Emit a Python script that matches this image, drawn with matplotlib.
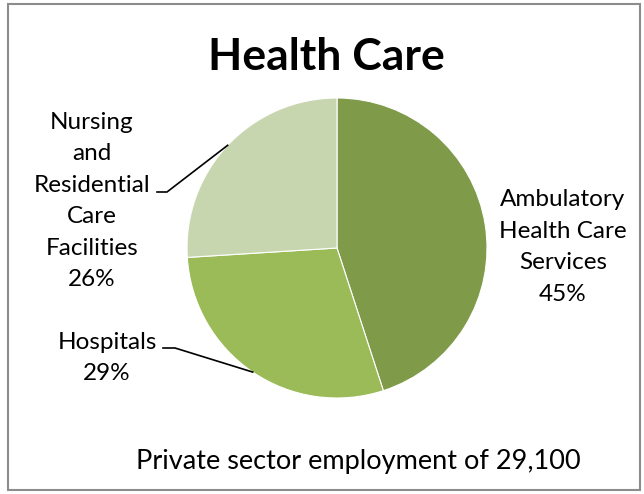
import numpy as np
import matplotlib
matplotlib.use("Agg")
import matplotlib.pyplot as plt
from matplotlib.patches import Rectangle

title = "Health Care"
footer = "Private sector employment of 29,100"
categories = ["Ambulatory\nHealth Care\nServices", "Hospitals", "Nursing\nand\nResidential\nCare\nFacilities"]
shares = [45, 29, 26]
colors = ["#7F9A48", "#9BBB59", "#C8D6AF"]

plt.rcParams['font.family'] = ['Lato', 'DejaVu Sans']

W, H = 644, 494
fig = plt.figure(figsize=(W / 100, H / 100), dpi=100)
ax = fig.add_axes([0, 0, 1, 1])

cx, cy, r = 337, H - 248, 150
wedges, _ = ax.pie(shares, center=(cx, cy), radius=r, startangle=90, counterclock=False,
                   colors=colors, wedgeprops=dict(edgecolor="white", linewidth=0.8))
ax.set_xlim(0, W)
ax.set_ylim(0, H)
ax.set_aspect("equal")
ax.axis("off")

# outer chart border
fig.patches.append(Rectangle((8 / W, 4 / H), 632 / W, 486 / H, transform=fig.transFigure,
                             fill=False, edgecolor="#8C8C8C", linewidth=1.5))

ax.text(326, H - 57, title, ha="center", va="center", fontsize=32, fontweight="bold")
ax.text(358, H - 462, footer, ha="center", va="center", fontsize=19.5)

def edge_point(w):
    mid = np.deg2rad((w.theta1 + w.theta2) / 2)
    return cx + r * np.cos(mid), cy + r * np.sin(mid)

lbl = dict(ha="center", va="center", fontsize=17.5, linespacing=1.62)
ax.text(563, H - 247, f"{categories[0]}\n{shares[0]}%", **lbl)
ax.text(107, H - 358, f"{categories[1]}\n{shares[1]}%", **lbl)
ax.text(92, H - 201, f"{categories[2]}\n{shares[2]}%", **lbl)

# leader lines with a short horizontal elbow
ex, ey = edge_point(wedges[1])
ax.plot([163, 175, ex], [H - 348, H - 348, ey], color="black", lw=1.2)
ex, ey = edge_point(wedges[2])
ax.plot([157, 167, ex], [H - 192, H - 192, ey], color="black", lw=1.2)

fig.savefig("out.png", dpi=100)
